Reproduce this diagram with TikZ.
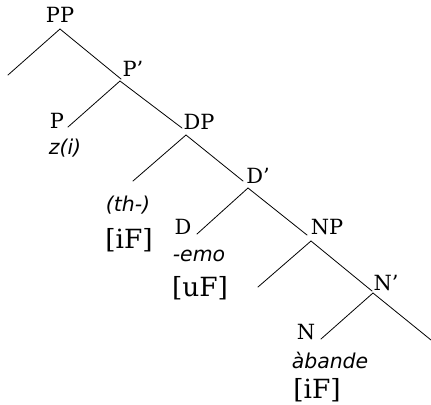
\documentclass[tikz,border=0pt]{standalone}
\usepackage{fontspec}
\setmainfont{DejaVu Serif}
\newfontfamily\glossfont{DejaVu Sans}
\usepackage{tikz}
\usetikzlibrary{positioning,calc}

\begin{document}
\begin{tikzpicture}[
    x=1bp, y=-1bp,
    cat/.style={inner sep=0pt, anchor=base, font=\fontsize{21}{21}\selectfont},
    form/.style={inner sep=0pt, anchor=base, font=\glossfont\itshape\fontsize{20.5}{20.5}\selectfont},
    feat/.style={inner sep=0pt, anchor=base, font=\fontsize{26.5}{26.5}\selectfont},
    branch/.style={line width=0.8pt, line cap=round}
]
\useasboundingbox (0,0) rectangle (431,405);

% Nodes
\node (pp) [cat] at (60,22) {PP};
\node (pbar) [cat] at (133,76) {P’};
\node (p) [cat] at (57,128) {P};
\node (zi) [form] at (65,154) {z(i)};
\node (dp) [cat] at (199,129) {DP};
\node (th) [form] at (128,211) {(th-)};
\node (thf) [feat] at (129,248) {[iF]};
\node (dbar) [cat] at (258,183) {D’};
\node (d) [cat] at (183,234) {D};
\node (emo) [form] at (199,261) {-emo};
\node (emof) [feat] at (200,296) {[uF]};
\node (np) [cat] at (327,234) {NP};
\node (nbar) [cat] at (386,290) {N’};
\node (n) [cat] at (306,339) {N};
\node (abande) [form] at (330,368) {àbande};
\node (abandef) [feat] at (317,398) {[iF]};

% Branch points and free ends
\coordinate (ppTop) at (60,29);
\coordinate (ppSpec) at (8,75);
\coordinate (pbarIn) at (121,79);
\coordinate (pbarTop) at (120,81);
\coordinate (pIn) at (68,127);
\coordinate (dpIn) at (182,128);
\coordinate (dpTop) at (186,135);
\coordinate (dpSpec) at (133,181);
\coordinate (dbarIn) at (243,181);
\coordinate (dbarTop) at (248,188);
\coordinate (dIn) at (197,234);
\coordinate (npIn) at (307,235);
\coordinate (npTop) at (311,241);
\coordinate (npSpec) at (258,287);
\coordinate (nbarIn) at (372,291);
\coordinate (nbarTop) at (373,293);
\coordinate (nIn) at (321,339);
\coordinate (nbarComp) at (431,340);

% Lines
\draw [branch] (ppSpec) -- (ppTop) -- (pbarIn);
\draw [branch] (pIn) -- (pbarTop) -- (dpIn);
\draw [branch] (dpSpec) -- (dpTop) -- (dbarIn);
\draw [branch] (dIn) -- (dbarTop) -- (npIn);
\draw [branch] (npSpec) -- (npTop) -- (nbarIn);
\draw [branch] (nIn) -- (nbarTop) -- (nbarComp);

\end{tikzpicture}
\end{document}
